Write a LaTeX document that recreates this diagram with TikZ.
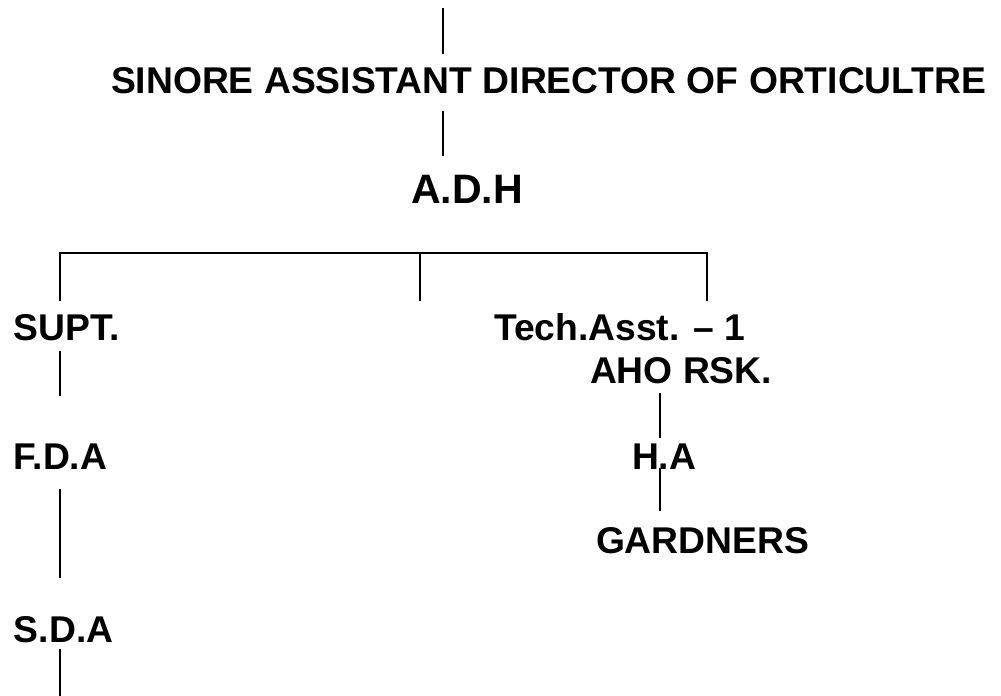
\documentclass[tikz,border=0pt]{standalone}
\usepackage{fontspec}
\setmainfont{Liberation Sans}
\begin{document}
\begin{tikzpicture}[x=0.02cm, y=-0.02cm, line width=0.04cm,
		lbl/.style={anchor=base west, inner sep=0pt, text height=0.53cm, text depth=0pt, font=\fontsize{21.2}{25}\selectfont\bfseries},
		big/.style={lbl, text height=0.59cm, font=\fontsize{23.4}{28}\selectfont\bfseries}]
		\useasboundingbox (0,0) rectangle (1001,696);
		% nodes
		\node[lbl] (title) at (110,93) {SINORE ASSISTANT DIRECTOR OF ORTICULTRE};
		\node[big] (adh) at (410,203) {A.D.H};
		\node[lbl] (supt) at (13,340) {SUPT.};
		\node[lbl] (tech) at (493,340) {Tech.Asst. – 1};
		\node[lbl] (aho) at (589,383) {AHO RSK.};
		\node[lbl] (fda) at (13,469) {F.D.A};
		\node[lbl] (ha) at (631,469) {H.A};
		\node[lbl] (gard) at (595,553) {GARDNERS};
		\node[lbl] (sda) at (13,642) {S.D.A};
		% helper coordinates
		\coordinate (cx) at (443,0);
		\coordinate (lx) at (60,0);
		\coordinate (mx) at (420,0);
		\coordinate (rx) at (707,0);
		\coordinate (hx) at (660,0);
		\coordinate (bar) at (0,253);
		\coordinate (top) at (443,8);
		\coordinate (mid) at (420,301);
		\coordinate (bot) at (60,696);
		% lines
		\draw[shorten >=0.23cm] (top) -- (title.north -| cx);
		\draw[shorten <=0.34cm, shorten >=0.33cm] (title.south -| cx) -- (adh.north -| cx);
		\draw[shorten <=0.23cm, shorten >=0.23cm] (supt.north -| lx) -- (bar -| lx) -- (bar -| rx) -- (tech.north -| rx);
		\draw (bar -| mx) -- (mid);
		\draw[shorten <=0.2cm, shorten >=0.91cm] (supt.south -| lx) -- (fda.north -| lx);
		\draw[shorten <=0.38cm, shorten >=0.73cm] (fda.south -| lx) -- (sda.north -| lx);
		\draw[shorten <=0.12cm] (sda.south -| lx) -- (bot);
		\draw[shorten <=0.18cm, shorten >=0.07cm] (aho.south -| hx) -- (ha.north -| hx);
		\draw[shorten <=-0.04cm, shorten >=0.29cm] (ha.south -| hx) -- (gard.north -| hx);
\end{tikzpicture}
\end{document}
